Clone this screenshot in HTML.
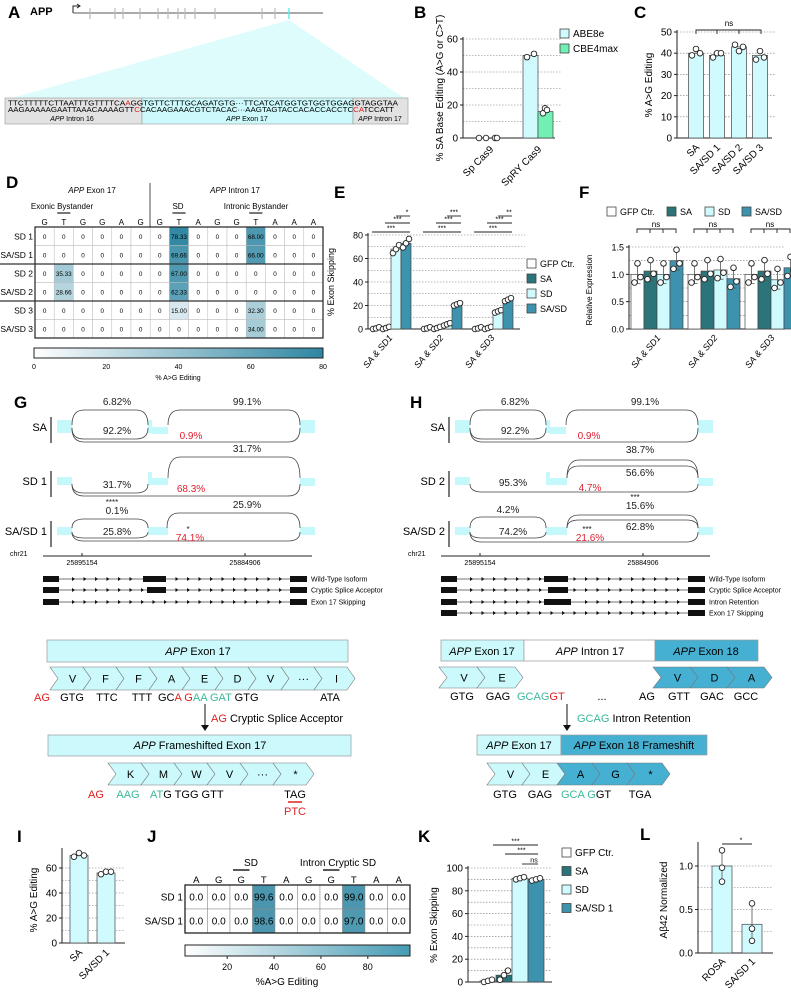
<!DOCTYPE html>
<html><head><meta charset="utf-8"><style>
body{margin:0;background:#fff}
svg{display:block;font-family:"Liberation Sans",sans-serif}
.pl{font-weight:bold;font-size:17px}
.t7{font-size:7px}.t8{font-size:8px}.t9{font-size:9px}.t10{font-size:10px}
.it{font-style:italic}
.gl{stroke:#777;stroke-width:0.6;stroke-dasharray:1.5,1.5}
.ax{stroke:#222;stroke-width:1;fill:none}
</style></head><body>
<svg id="fig" width="791" height="1000" viewBox="0 0 791 1000" xmlns="http://www.w3.org/2000/svg">
<g>
<text class="pl" x="8" y="18">A</text>
<text x="30" y="15" font-size="11" font-weight="bold">APP</text>
<path d="M73 13 V6 H80 M77 4 L80 6 L77 8" class="ax" stroke-width="0.8"/>
<line x1="73" y1="13" x2="323" y2="13" stroke="#777" stroke-width="1.2"/>
<g stroke="#bbb" stroke-width="1.2">
<line x1="90" y1="8" x2="90" y2="19"/><line x1="115" y1="8" x2="115" y2="19"/><line x1="123" y1="8" x2="123" y2="19"/><line x1="140" y1="8" x2="140" y2="19"/><line x1="158" y1="8" x2="158" y2="19"/><line x1="168" y1="8" x2="168" y2="19"/><line x1="178" y1="8" x2="178" y2="19"/><line x1="185" y1="8" x2="185" y2="19"/><line x1="195" y1="8" x2="195" y2="19"/><line x1="215" y1="8" x2="215" y2="19"/><line x1="262" y1="8" x2="262" y2="19"/><line x1="275" y1="8" x2="275" y2="19"/>
</g>
<line x1="289" y1="8" x2="289" y2="19" stroke="#5ee" stroke-width="1.4"/>
<polygon points="289,20 5,100 408,100 392,90" fill="#dffcfd"/>
<rect x="5" y="98" width="137" height="26" fill="#e2e2e2" stroke="#999" stroke-width="0.6"/>
<rect x="142" y="98" width="211" height="26" fill="#ccfafc" stroke="#999" stroke-width="0.6"/>
<rect x="353" y="98" width="55" height="26" fill="#e2e2e2" stroke="#999" stroke-width="0.6"/>
<text x="8" y="105.5" font-family="Liberation Sans Narrow,Liberation Sans,sans-serif" font-size="7.2" textLength="390" lengthAdjust="spacingAndGlyphs">TTCTTTTTCTTAATTTGTTTTCA<tspan fill="#e02020">A</tspan>GGTGTTCTTTGCAGATGTG···TTCATCATGGTGTGGTGGAGGTAGGTAA</text>
<text x="8" y="112" font-family="Liberation Sans Narrow,Liberation Sans,sans-serif" font-size="7.2" textLength="386" lengthAdjust="spacingAndGlyphs">AAGAAAAAGAATTAAACAAAAGTT<tspan fill="#e02020">C</tspan>CACAAGAAACGTCTACAC···AAGTAGTACCACACCACCTC<tspan fill="#e02020">CA</tspan>TCCATT</text>
<text x="72" y="121" class="t7" text-anchor="middle"><tspan class="it">APP</tspan> Intron 16</text>
<text x="247" y="121" class="t7" text-anchor="middle"><tspan class="it">APP</tspan> Exon 17</text>
<text x="380" y="121" class="t7" text-anchor="middle"><tspan class="it">APP</tspan> Intron 17</text>
</g>
<text class="pl" x="414" y="18">B</text>
<text class="pl" x="634" y="18">C</text>
<text class="pl" x="6" y="188">D</text>
<text class="pl" x="334" y="198">E</text>
<text class="pl" x="579" y="198">F</text>
<text class="pl" x="14" y="408">G</text>
<text class="pl" x="410" y="408">H</text>
<text class="pl" x="17" y="842">I</text>
<text class="pl" x="147" y="842">J</text>
<text class="pl" x="418" y="842">K</text>
<text class="pl" x="640" y="840">L</text>

<g>
<text x="92" y="193" class="t8" text-anchor="middle"><tspan class="it">APP</tspan> Exon 17</text>
<text x="235" y="193" class="t8" text-anchor="middle"><tspan class="it">APP</tspan> Intron 17</text>
<line x1="150" y1="183" x2="150" y2="227" stroke="#222" stroke-width="0.8"/>
<text x="62" y="209" class="t8" text-anchor="middle">Exonic Bystander</text>
<text x="178" y="209" class="t8" text-anchor="middle">SD</text>
<text x="256" y="209" class="t8" text-anchor="middle">Intronic Bystander</text>
<text x="178" y="380" class="t7" text-anchor="middle">% A&gt;G Editing</text>
</g>
<g>
<text x="251" y="866" class="t10" text-anchor="middle">SD</text>
<text x="338" y="866" class="t10" text-anchor="middle">Intron Cryptic SD</text>
<text x="287" y="985" class="t10" text-anchor="middle">%A&gt;G Editing</text>
</g>
<g id="charts"></g>
<g id="sashimi"></g>
<g id="models"></g>
<g font-size="11">
<rect x="47" y="640" width="301" height="22" fill="#ccfafc" stroke="#999" stroke-width="0.7"/>
<text x="198" y="655" text-anchor="middle"><tspan class="it">APP</tspan> Exon 17</text>
<text y="701" text-anchor="middle"><tspan x="42" fill="#e02020">AG</tspan><tspan x="72">GTG</tspan><tspan x="107">TTC</tspan><tspan x="142">TTT</tspan></text>
<text x="158" y="701">GC<tspan fill="#e02020">A</tspan> <tspan fill="#e02020">G</tspan><tspan fill="#3bb89a">AA</tspan> <tspan fill="#3bb89a">GAT</tspan> GTG</text>
<text x="330" y="701" text-anchor="middle">ATA</text>
<line x1="205" y1="704" x2="205" y2="727" stroke="#111" stroke-width="1"/><polygon points="201,725 209,725 205,731" fill="#111"/>
<text x="211" y="722"><tspan fill="#e02020">AG</tspan> Cryptic Splice Acceptor</text>
<rect x="48" y="735" width="303" height="21" fill="#ccfafc" stroke="#999" stroke-width="0.7"/>
<text x="200" y="749" text-anchor="middle"><tspan class="it">APP</tspan> Frameshifted Exon 17</text>
<text y="798" text-anchor="middle"><tspan x="96" fill="#e02020">AG</tspan><tspan x="128" fill="#3bb89a">AAG</tspan></text>
<text x="150" y="798"><tspan fill="#3bb89a">AT</tspan>G TGG GTT</text>
<text x="295" y="798" text-anchor="middle">TAG</text>
<line x1="288" y1="802" x2="302" y2="802" stroke="#e02020" stroke-width="1.5"/>
<text x="295" y="815" text-anchor="middle" fill="#e02020">PTC</text>
</g>
<g font-size="11">
<rect x="441" y="640" width="83" height="21" fill="#ccfafc" stroke="#999" stroke-width="0.7"/>
<rect x="524" y="640" width="131" height="21" fill="#fff" stroke="#999" stroke-width="0.7"/>
<rect x="655" y="640" width="103" height="21" fill="#45b0d2" stroke="#999" stroke-width="0.7"/>
<text x="482" y="655" text-anchor="middle"><tspan class="it">APP</tspan> Exon 17</text>
<text x="590" y="655" text-anchor="middle"><tspan class="it">APP</tspan> Intron 17</text>
<text x="706" y="655" text-anchor="middle"><tspan class="it">APP</tspan> Exon 18</text>
<text y="700" text-anchor="middle"><tspan x="462">GTG</tspan><tspan x="498">GAG</tspan></text>
<text x="517" y="700"><tspan fill="#3bb89a">GCAG</tspan><tspan fill="#e02020">GT</tspan></text>
<text y="700" text-anchor="middle"><tspan x="602">...</tspan><tspan x="647">AG</tspan><tspan x="679">GTT</tspan><tspan x="712">GAC</tspan><tspan x="746">GCC</tspan></text>
<line x1="567" y1="704" x2="567" y2="727" stroke="#111" stroke-width="1"/><polygon points="563,725 571,725 567,731" fill="#111"/>
<text x="577" y="722"><tspan fill="#3bb89a">GCAG</tspan> Intron Retention</text>
<rect x="477" y="735" width="84" height="20" fill="#ccfafc" stroke="#999" stroke-width="0.7"/>
<rect x="561" y="735" width="146" height="20" fill="#45b0d2" stroke="#999" stroke-width="0.7"/>
<text x="519" y="749" text-anchor="middle"><tspan class="it">APP</tspan> Exon 17</text>
<text x="634" y="749" text-anchor="middle"><tspan class="it">APP</tspan> Exon 18 Frameshift</text>
<text y="798" text-anchor="middle"><tspan x="505">GTG</tspan><tspan x="540">GAG</tspan></text>
<text x="561" y="798"><tspan fill="#3bb89a">GCA G</tspan>GT</text>
<text x="640" y="798" text-anchor="middle">TGA</text>
</g>
<g id="chevrons"></g>
</svg>
<script>
// ---------- DATA ----------
const bCats = ['Sp Cas9','SpRY Cas9'];
const bAbe = [0, 50];
const bCbe = [0, 16];
const bAbePts = [[0,0],[49,51]];
const bCbePts = [[0,0],[15,18,17]];
const bTicks = [0,20,40,60];

const cCats = ['SA','SA/SD 1','SA/SD 2','SA/SD 3'];
const cVals = [40,39,43,39];
const cPts = [[39,42,40],[38,40,40],[44,41,43],[37,41,38]];
const cTicks = [0,10,20,30,40,50];

const dCols = ['G','T','G','G','A','G','G','T','A','G','G','T','A','A','A'];
const dRows = ['SD 1','SA/SD 1','SD 2','SA/SD 2','SD 3','SA/SD 3'];
const dVals = [
 [0,0,0,0,0,0,0,78.33,0,0,0,68.00,0,0,0],
 [0,0,0,0,0,0,0,69.66,0,0,0,66.00,0,0,0],
 [0,35.33,0,0,0,0,0,67.00,0,0,0,0,0,0,0],
 [0,28.66,0,0,0,0,0,62.33,0,0,0,0,0,0,0],
 [0,0,0,0,0,0,0,15.00,0,0,0,32.30,0,0,0],
 [0,0,0,0,0,0,0,0,0,0,0,34.00,0,0,0]];
const dTicks = [0,20,40,60,80];

const eGroups = ['SA & SD1','SA & SD2','SA & SD3'];
const eGfp = [0.5,0.5,0.5];
const eSa = [0.8,0.8,0.8];
const eSd = [68,4,15];
const eSasd = [73,21,25];
const eTicks = [0,20,40,60,80];

const fGroups = ['SA & SD1','SA & SD2','SA & SD3'];
const fGfp = [1.0,1.0,1.0];
const fSa = [1.06,1.06,1.06];
const fSd = [1.0,1.08,0.9];
const fSasd = [1.25,0.92,1.12];
const fTicks = [0,0.5,1.0,1.5];

const iCats = ['SA','SA/SD 1'];
const iVals = [70,56];
const iPts = [[69,72,70],[55,57,57]];
const iTicks = [0,20,40,60];

const jCols = ['A','G','G','T','A','G','G','T','A','A'];
const jRows = ['SD 1','SA/SD 1'];
const jVals = [[0,0,0,99.6,0,0,0,99.0,0,0],[0,0,0,98.6,0,0,0,97.0,0,0]];
const jTicks = [20,40,60,80];

const kCats = ['GFP Ctr.','SA','SD','SA/SD 1'];
const kVals = [1,6,91,90];
const kTicks = [0,20,40,60,80,100];

const lCats = ['ROSA','SA/SD 1'];
const lVals = [1.0,0.33];
const lPts = [[1.18,0.98,0.82],[0.57,0.28,0.14]];
const lTicks = [0,0.5,1.0];

// ---------- HELPERS ----------
const NS='http://www.w3.org/2000/svg';
const root=document.getElementById('charts');
function el(tag,attrs,parent){const e=document.createElementNS(NS,tag);for(const k in attrs)e.setAttribute(k,attrs[k]);(parent||root).appendChild(e);return e;}
function txt(x,y,s,size,anchor,extra){const t=el('text',Object.assign({x:x,y:y,'font-size':size,'text-anchor':anchor||'middle'},extra||{}));t.textContent=s;return t;}
const CL='#cffafe', SAc='#2b7479', SDc='#cffafe', SASD='#3d93ad', GFPc='#ffffff', CBE='#72f0b4';
function sc(v,min,max,y0,y1){return y0+(v-min)/(max-min)*(y1-y0);}
function yaxis(x,yTop,yBot,ticks,min,max,fmt,gridX2,gridStep,fs,ext){
  if(gridX2){for(let v=min+gridStep;v<=max+1e-9;v+=gridStep){const y=sc(v,min,max,yBot,yTop);const g=el('line',{x1:x,x2:gridX2,y1:y,y2:y,class:'gl'});
  
  }}
  const a=el('line',{x1:x,x2:x,y1:yTop-2-(ext||0),y2:yBot,class:'ax'});
  
  
  ticks.forEach(v=>{const y=sc(v,min,max,yBot,yTop);el('line',{x1:x-3,x2:x,y1:y,y2:y,class:'ax'});const t=txt(x-5,y+3.5,fmt(v),fs||9,'end');
  
  });
}
function xaxis(x1,x2,y){const a=el('line',{x1:x1,x2:x2,y1:y,y2:y,class:'ax'});

}
function bar(x,w,v,min,max,yTop,yBot,fill,name){const y=sc(v,min,max,yBot,yTop);const r=el('rect',{x:x,y:Math.min(y,yBot),width:w,height:Math.abs(yBot-y),fill:fill,stroke:'#444','stroke-width':0.7});

return r;}
function pt(cx,v,min,max,yTop,yBot){const c=el('circle',{cx:cx,cy:sc(v,min,max,yBot,yTop),r:2.8,fill:'#fff',stroke:'#222','stroke-width':0.9});

}
function rotLabel(x,y,s,size,italic,ang){const a=ang||-50;const t=txt(x,y,s,size,'end',{transform:`rotate(${a} ${x} ${y})`});if(italic)t.setAttribute('font-style','italic');

return t;}
function ytitle(x,y,s,size){const t=txt(x,y,s,size,'middle',{transform:`rotate(-90 ${x} ${y})`});

}
function sig(x1,x2,y,s){const l=el('line',{x1:x1,x2:x2,y1:y,y2:y,stroke:'#222','stroke-width':0.9});


const t=txt((x1+x2)/2+ (s.length<3?4:0),y-1.5,s,7);

}
function legend(x,y,fill,s,size){const r=el('rect',{x:x,y:y-8,width:9,height:9,fill:fill,stroke:'#444','stroke-width':0.8});


const t=txt(x+13,y,s,size||9,'start');

}
function heat(v,max){const f=Math.min(1,v/max);const c0=[255,255,255],c1=[46,134,162];return `rgb(${c0.map((c,i)=>Math.round(c+(c1[i]-c)*f)).join(',')})`;}
function errbar(cx,lo,hi,min,max,yTop,yBot){const a=sc(lo,min,max,yBot,yTop),b=sc(hi,min,max,yBot,yTop);el('path',{d:`M${cx} ${a}V${b}M${cx-3} ${a}H${cx+3}M${cx-3} ${b}H${cx+3}`,stroke:'#555','stroke-width':0.8,fill:'none'});}

// ---------- B ----------
(function(){const yT=39,yB=138,mn=0,mx=60;
yaxis(463,yT,yB,bTicks,mn,mx,v=>v,562,10,10);xaxis(463,555,yB);
const centers=[490,538];
bCats.forEach((c,i)=>{bar(centers[i]-15,15,bAbe[i],mn,mx,yT,yB,CL,'bar-abe8e-'+i);bar(centers[i],15,bCbe[i],mn,mx,yT,yB,CBE,'bar-cbe4max-'+i);
 bAbePts[i].forEach((v,k)=>pt(centers[i]-11+k*7,v,mn,mx,yT,yB));bCbePts[i].forEach((v,k)=>pt(centers[i]+7+(k-1)*2,v,mn,mx,yT,yB));
 rotLabel(centers[i]+4,150,c,10,false,-45);});
ytitle(443,88,'% SA Base Editing (A>G or C>T)',10);
legend(560,37,CL,'ABE8e',10);legend(560,52,CBE,'CBE4max',10);})();

// ---------- C ----------
(function(){const yT=32,yB=138,mn=0,mx=50;
yaxis(677,yT,yB,cTicks,mn,mx,v=>v,775,10,10);xaxis(677,772,yB);
const centers=[696,717,739,760];
cCats.forEach((c,i)=>{bar(centers[i]-7.5,15,cVals[i],mn,mx,yT,yB,CL,'bar-c-'+i);cPts[i].forEach((v,k)=>pt(centers[i]-4+k*4,v,mn,mx,yT,yB));rotLabel(centers[i]+4,148,c,10,false,-45);});
el('path',{d:'M696 34V30H761V34M717 30V34M739 30V34',stroke:'#222','stroke-width':0.9,fill:'none'});txt(729,26,'ns',8);
ytitle(652,85,'% A>G Editing',10);})();

// ---------- D ----------
(function(){const x0=35,cw=19.2,y0=227,rh=18.5;
dCols.forEach((c,j)=>{txt(x0+cw*j+cw/2,225,c,8);});
[[1],[7],[11]].forEach(a=>el('line',{x1:x0+cw*a[0]+3,x2:x0+cw*a[0]+cw-3,y1:213,y2:213,stroke:'#555','stroke-width':1.6}));
dRows.forEach((r,i)=>{const y=y0+rh*i;txt(x0-2,y+rh/2+3,r,8.5,'end');
 dVals[i].forEach((v,j)=>{const x=x0+cw*j;const c=el('rect',{x:x,y:y,width:cw,height:rh,fill:heat(v,80),stroke:'#bbb','stroke-width':0.5});
 
 
 txt(x+cw/2,y+rh/2+2.5,v===0?'0':v.toFixed(2),6.3);});});
el('rect',{x:x0,y:y0,width:cw*15,height:rh*6,fill:'none',stroke:'#222','stroke-width':1.2});
[2,4].forEach(k=>el('line',{x1:x0-35,x2:x0+cw*15,y1:y0+rh*k,y2:y0+rh*k,stroke:'#333','stroke-width':1.3}));
const g=el('linearGradient',{id:'gD'});el('stop',{offset:'0','stop-color':'#fff'},g);el('stop',{offset:'1','stop-color':'rgb(46,134,162)'},g);
const cb=el('rect',{x:34,y:348,width:289,height:10,fill:'url(#gD)',stroke:'#222','stroke-width':1});


dTicks.forEach(v=>{const x=34+v/80*289;txt(x,369,v,7);});})();

// ---------- E ----------
(function(){const yT=235,yB=329,mn=0,mx=80;
yaxis(368,yT,yB,eTicks,mn,mx,v=>v,525,10);xaxis(368,520,yB);
const series=[eGfp,eSa,eSd,eSasd],cols=[GFPc,SAc,SDc,SASD];
eGroups.forEach((gname,i)=>{const gx=371+i*51;series.forEach((s,k)=>{bar(gx+k*10,10,s[i],mn,mx,yT,yB,cols[k],'bar-e-'+k+'-'+i);[-3,0,3].forEach((d,q)=>pt(gx+k*10+5+d,Math.max(0,s[i]+(q-1)*Math.max(1,s[i]*0.05)),mn,mx,yT,yB));});
 rotLabel(gx+22,338,gname,9,true);
 sig(gx+1,gx+39,232,'***');sig(gx+14,gx+39,223,'***');sig(gx+25,gx+39,216,i==0?'*':(i==1?'***':'**'));});
ytitle(334,282,'% Exon Skipping',9);
legend(527,267,GFPc,'GFP Ctr.',9);legend(527,282,SAc,'SA',9);legend(527,297,SDc,'SD',9);legend(527,312,SASD,'SA/SD',9);})();

// ---------- F ----------
(function(){const yT=247,yB=329,mn=0,mx=1.5;
yaxis(629,yT,yB,fTicks,mn,mx,v=>v.toFixed(1),785,0.25);xaxis(629,785,yB);
const series=[fGfp,fSa,fSd,fSasd],cols=[GFPc,SAc,SDc,SASD];
fGroups.forEach((gname,i)=>{const gx=631+i*57;series.forEach((s,k)=>{const cx=gx+k*13+6.5;bar(gx+k*13,13,s[i],mn,mx,yT,yB,cols[k],'bar-f-'+k+'-'+i);errbar(cx,s[i]-0.17,s[i]+0.17,mn,mx,yT,yB);[-0.15,0.2,-0.05].forEach((d,q)=>pt(cx+(q-1)*3,s[i]+d,mn,mx,yT,yB));});
 rotLabel(gx+30,338,gname,9,true);
 el('path',{d:`M${gx+6} 233V229H${gx+45}V233M${gx+19} 229V233M${gx+32} 229V233`,stroke:'#222','stroke-width':0.9,fill:'none'});txt(gx+25,227,'ns',8);});
ytitle(592,290,'Relative Expression',8);
legend(607,215,GFPc,'GFP Ctr.',9);legend(667,215,SAc,'SA',9);legend(705,215,SDc,'SD',9);legend(742,215,SASD,'SA/SD',9);})();

// ---------- I ----------
(function(){const yT=868,yB=943,mn=0,mx=60;
yaxis(62,yT,yB,iTicks,mn,mx,v=>v,125,10,10,18);xaxis(62,125,yB);
const centers=[79,106];
iCats.forEach((c,i)=>{bar(centers[i]-9,18,iVals[i],mn,mx,yT,yB,CL,'bar-i-'+i);iPts[i].forEach((v,k)=>pt(centers[i]-5+k*5,v,mn,mx,yT,yB));rotLabel(centers[i]+4,953,c,10,false,-45);});
ytitle(37,900,'% A>G Editing',10);})();

// ---------- J ----------
(function(){const x0=185,cw=22.5,y0=885,rh=24;
jCols.forEach((c,j)=>txt(x0+cw*j+cw/2,883,c,9.5));
[2,6].forEach(j=>el('line',{x1:x0+cw*j+3,x2:x0+cw*j+cw-3,y1:870,y2:870,stroke:'#222','stroke-width':1.6}));
jRows.forEach((r,i)=>{const y=y0+rh*i;txt(x0-2,y+rh/2+3.5,r,10,'end');
 jVals[i].forEach((v,j)=>{const x=x0+cw*j;const c=el('rect',{x:x,y:y,width:cw,height:rh,fill:heat(v,115),stroke:'#888','stroke-width':0.5});
 
 
 txt(x+cw/2,y+rh/2+3.5,v.toFixed(1),10);});});
el('rect',{x:x0,y:y0,width:cw*10,height:rh*2,fill:'none',stroke:'#222','stroke-width':1.3});
const g=el('linearGradient',{id:'gJ'});el('stop',{offset:'0','stop-color':'#fff'},g);el('stop',{offset:'1','stop-color':'rgb(70,155,180)'},g);
const cb=el('rect',{x:185,y:945,width:225,height:11,fill:'url(#gJ)',stroke:'#222','stroke-width':1});


jTicks.forEach(v=>{const x=185+(v-2)/96*225;el('line',{x1:x,x2:x,y1:956,y2:959,stroke:'#222'});txt(x,970,v,9);});})();

// ---------- K ----------
(function(){const yT=868,yB=982,mn=0,mx=100;
yaxis(468,yT,yB,kTicks,mn,mx,v=>v,552,10,10);xaxis(468,552,yB);
const cols=[GFPc,SAc,SDc,SASD];
kCats.forEach((c,i)=>{const x=480+i*16;bar(x,16,kVals[i],mn,mx,yT,yB,cols[i],'bar-k-'+i);[-4,0,4].forEach((d,q)=>pt(x+8+d,Math.max(0,kVals[i]+(q-1)*(i==1?4:1)),mn,mx,yT,yB));});
sig(493,538,845,'***');sig(505,538,854,'***');sig(522,538,864,'ns');
ytitle(437,925,'% Exon Skipping',10);
kCats.forEach((c,i)=>legend(562,856+i*18.5,cols[i],c,10));})();

// ---------- L ----------
(function(){const yT=866,yB=953,mn=0,mx=1.0;
yaxis(698,yT,yB,lTicks,mn,mx,v=>v.toFixed(1),773,0.25,10,22);xaxis(698,773,yB);
const centers=[722,752];
lCats.forEach((c,i)=>{bar(centers[i]-10,20,lVals[i],mn,mx,yT,yB,CL,'bar-l-'+i);errbar(centers[i],Math.min(...lPts[i]),Math.max(...lPts[i]),mn,mx,yT,yB);lPts[i].forEach(v=>pt(centers[i],v,mn,mx,yT,yB));rotLabel(centers[i]+4,962,c,10,false,-45);});
sig(722,752,844,'*');
ytitle(667,900,'A\u03b242 Normalized',10);})();

// ---------- Sashimi ----------
const sroot=document.getElementById('sashimi');
function S(tag,attrs){return el(tag,attrs,sroot);}
function arc(x1,x2,yb,yt){const r=Math.min(12,(x2-x1)/3);const p=S('path',{d:`M${x1} ${yb} Q${x1} ${yt} ${x1+r} ${yt} L${x2-r} ${yt} Q${x2} ${yt} ${x2} ${yb}`,fill:'none',stroke:'#444','stroke-width':0.8});

}
function lab(x,y,s,red,size){const t=el('text',{x:x,y:y,'font-size':size||10,'text-anchor':'middle',fill:red?'#e02030':'#222'},sroot);t.textContent=s;}
function exonRect(x,y,w,h){const r=S('rect',{x:x,y:y,width:w,height:h,fill:'#c4f8fb'});

}
function rowLab(x,y,s){const t=el('text',{x:x,y:y,'font-size':11,'text-anchor':'end'},sroot);t.textContent=s;S('line',{x1:x+4,x2:x+4,y1:y-14,y2:y+12,stroke:'#222','stroke-width':1.2});}
function saRow(o){rowLab(47+o,431,'SA');exonRect(57+o,420,15,13);exonRect(148+o,420,4,13);exonRect(152+o,427,16,7);exonRect(300+o,420,15,13);
arc(72+o,148+o,425,410);lab(117+o,405,'6.82%');arc(168+o,300+o,425,410);lab(247+o,405,'99.1%');
arc(72+o,148+o,428,439);lab(117+o,434,'92.2%');arc(72+o,300+o,428,442);lab(191+o,439,'0.9%',true);}
saRow(0);saRow(398);
rowLab(47,485,'SD 1');exonRect(57,477,15,8);exonRect(148,472,4,13);exonRect(152,478,16,7);exonRect(300,478,15,8);
arc(168,300,478,457);lab(247,452,'31.7%');arc(72,148,484,493);lab(117,488,'31.7%');arc(72,300,484,496);lab(191,492,'68.3%',true);
rowLab(47,535,'SA/SD 1');exonRect(57,527,15,8);exonRect(148,527,20,8);exonRect(300,527,15,8);
arc(72,148,528,519);lab(117,514,'0.1%');lab(112,505,'****',false,8);arc(167,300,528,513);lab(247,508,'25.9%');
arc(72,148,532,538);lab(117,535,'25.8%');arc(72,300,532,541);lab(190,541,'74.1%',true);lab(188,532,'*',false,8);
rowLab(445,485,'SD 2');exonRect(455,477,15,8);exonRect(546,472,4,13);exonRect(550,478,17,7);exonRect(698,478,15,8);
arc(567,698,478,460);lab(640,453,'38.7%');arc(567,698,478,466);lab(640,476,'56.6%');
arc(470,698,484,492);lab(513,486,'95.3%');lab(590,491,'4.7%',true);
rowLab(445,535,'SA/SD 2');exonRect(455,527,15,8);exonRect(546,527,21,8);exonRect(698,527,15,8);
arc(470,546,528,517);lab(508,513,'4.2%');arc(567,698,528,515);lab(640,509,'15.6%');lab(635,500,'***',false,8);
arc(567,698,528,520);lab(640,530,'62.8%');arc(470,546,532,538);lab(513,535,'74.2%');arc(470,698,532,542);lab(590,541,'21.6%',true);lab(587,532,'***',false,8);
[[0],[398]].forEach(([o])=>{S('line',{x1:43+o,x2:312+o,y1:556,y2:556,stroke:'#222','stroke-width':0.9});
el('text',{x:10+o,y:556,'font-size':7},sroot).textContent='chr21';
[[82,'25895154'],[245,'25884906']].forEach(([x,s])=>{S('line',{x1:x+o,x2:x+o,y1:553,y2:556,stroke:'#222'});el('text',{x:x+o,y:565,'font-size':7,'text-anchor':'middle'},sroot).textContent=s;});});

// ---------- Gene models ----------
const mroot=document.getElementById('models');
function M(tag,a){return el(tag,a,mroot);}
function model(o,y,mid,label){M('line',{x1:43+o,x2:307+o,y1:y,y2:y,stroke:'#444','stroke-width':0.8});
M('rect',{x:43+o,y:y-3,width:16,height:6,fill:'#111'});M('rect',{x:290+o,y:y-3,width:17,height:6,fill:'#111'});
if(mid)M('rect',{x:mid[0]+o,y:y-3,width:mid[1]-mid[0],height:6,fill:'#111'});
for(let x=72;x<285;x+=11.5){if(mid&&x>mid[0]-4&&x<mid[1]+3)continue;M('polygon',{points:`${x+o},${y-2} ${x+o+3},${y} ${x+o},${y+2}`,fill:'#111'});}
const t=el('text',{x:311+o,y:y+2.5,'font-size':7},mroot);t.textContent=label;

}
model(0,579,[143,166],'Wild-Type Isoform');model(0,590,[147,166],'Cryptic Splice Acceptor');model(0,602,null,'Exon 17 Skipping');
model(398,579,[146,170],'Wild-Type Isoform');model(398,590,[150,170],'Cryptic Splice Acceptor');model(398,602,[146,173],'Intron Retention');model(398,613,null,'Exon 17 Skipping');

// ---------- Chevrons ----------
const croot=document.getElementById('chevrons');
function chev(x,y,w,h,fill,letter){const n=8;const p=el('polygon',{points:`${x},${y} ${x+w},${y} ${x+w+n},${y+h/2} ${x+w},${y+h} ${x},${y+h} ${x+n},${y+h/2}`,fill:fill,stroke:'#777','stroke-width':0.6},croot);


const t=el('text',{x:x+w/2+6,y:y+h/2+4,'font-size':11,'text-anchor':'middle'},croot);t.textContent=letter;}
['V','F','F','A','E','D','V','···','I'].forEach((l,i)=>chev(50+i*33,667,33,23,'#ccfafc',l));
['K','M','W','V','···','*'].forEach((l,i)=>chev(108+i*33,763,33,22,'#ccfafc',l));
['V','E'].forEach((l,i)=>chev(439+i*38,667,38,21,'#ccfafc',l));
['V','D','A'].forEach((l,i)=>chev(653+i*37,667,37,21,'#45b0d2',l));
['V','E','A','G','*'].forEach((l,i)=>chev(487+i*35,763,35,22,i<2?'#ccfafc':'#45b0d2',l));
</script>
</body></html>
